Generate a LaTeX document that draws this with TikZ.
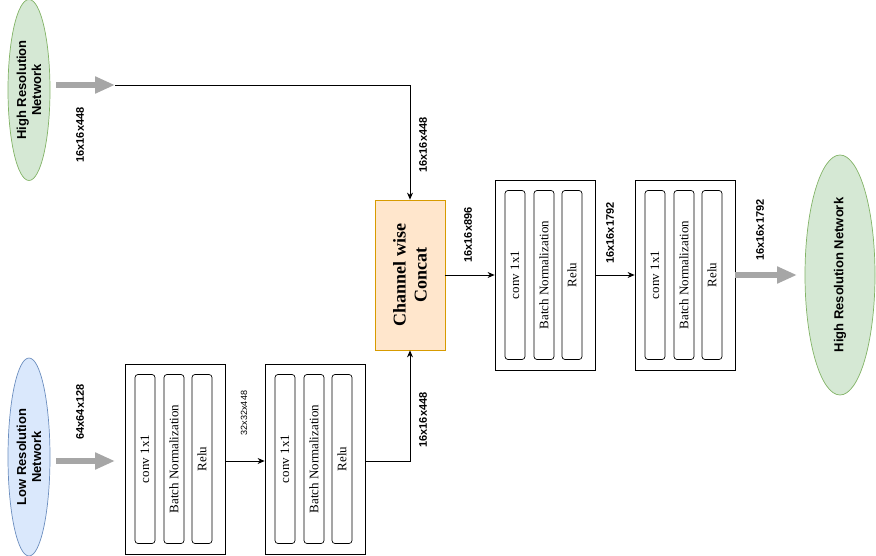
\documentclass[tikz,border=0pt]{standalone}
\usepackage{fontspec}
\setmainfont{Liberation Serif}
\newfontfamily\arial{Liberation Sans}
\usetikzlibrary{arrows.meta,shapes.geometric}
\definecolor{gfill}{HTML}{D5E8D4}\definecolor{gline}{HTML}{82B366}
\definecolor{bfill}{HTML}{DAE8FC}\definecolor{bline}{HTML}{6C8EBF}
\definecolor{ofill}{HTML}{FFE6CC}\definecolor{oline}{HTML}{D79B00}
\definecolor{garr}{HTML}{A6A6A6}
\tikzset{
 ell/.style={ellipse,draw,line width=0.7pt,inner sep=0pt},
 blk/.style={draw,line width=0.8pt,minimum width=100pt,minimum height=190pt,inner sep=0pt},
 lay/.style={draw,rounded corners=3pt,line width=0.7pt,minimum width=20pt,minimum height=169pt,inner sep=0pt},
 laytxt/.style={rotate=90,font=\fontsize{13}{14}\selectfont},
 dim/.style={rotate=90,font=\arial\bfseries\fontsize{11}{12}\selectfont},
 conn/.style={line width=0.8pt,-{Stealth[length=7pt,width=6pt]}},
 fat/.style={garr,line width=6pt,-{Triangle[length=20pt,width=16pt]}},
}
\newcommand{\block}[2]{%
 \node[blk] (#1) at (#2) {};
 \node[lay] (#1a) at ($(#1)+(-30pt,0)$) {}; \node[laytxt] at (#1a) {conv 1x1};
 \node[lay] (#1b) at ($(#1)+(-1pt,0)$) {}; \node[laytxt] at (#1b) {Batch Normalization};
 \node[lay] (#1c) at ($(#1)+(27pt,0)$) {}; \node[laytxt] at (#1c) {Relu};}
\usetikzlibrary{calc}
\begin{document}
\begin{tikzpicture}[x=1pt,y=-1pt]
\useasboundingbox (0,0) rectangle (876,556);
\node[ell,fill=gfill,draw=gline,minimum width=42pt,minimum height=181pt] (hr) at (29,90) {};
\node[rotate=90,align=center,font=\arial\bfseries\fontsize{13}{15}\selectfont] at (hr) {High Resolution\\Network};
\node[ell,fill=bfill,draw=bline,minimum width=42pt,minimum height=198pt] (lr) at (29,457) {};
\node[rotate=90,align=center,font=\arial\bfseries\fontsize{13}{15}\selectfont] at (lr) {Low Resolution\\Network};
\node[ell,fill=gfill,draw=gline,minimum width=70pt,minimum height=240pt] (hr2) at (840,275) {};
\node[rotate=90,font=\arial\bfseries\fontsize{13}{15}\selectfont] at (hr2) {High Resolution Network};
\node[draw=oline,fill=ofill,line width=0.8pt,minimum width=70pt,minimum height=150pt,inner sep=0pt] (cc) at (410,275) {};
\node[rotate=90,align=center,font=\bfseries\fontsize{18}{21}\selectfont] at (cc) {Channel wise\\Concat};
\block{b1}{175,459}
\block{b2}{315,459}
\block{b3}{545,275}
\block{b4}{685,275}
\coordinate (h1) at (56,85); \coordinate (h2) at (115,85);
\draw[fat] (h1) -- (h2);
\draw[conn] (h2) -- (410,85) -- (cc.north);
\coordinate (l1) at (56,461); \coordinate (l2) at (115,461);
\draw[fat] (l1) -- (l2);
\draw[conn] (b1.east|-0,461) -- (b2.west|-0,461);
\draw[conn] (b2.east|-0,461) -- (410,461) -- (cc.south);
\draw[conn] (cc.east) -- (b3.west);
\draw[conn] (b3.east) -- (b4.west);
\coordinate (o2) at (797,275);
\draw[fat] (b4.east) -- (o2);
\node[dim] at (80,135) {16x16x448};
\node[dim] at (423,145) {16x16x448};
\node[dim] at (80,412) {64x64x128};
\node[rotate=90,font=\arial\fontsize{9}{10}\selectfont] at (244,413) {32x32x448};
\node[dim] at (423,420) {16x16x448};
\node[dim] at (468,235) {16x16x896};
\node[dim] at (610,233) {16x16x1792};
\node[dim] at (760,230) {16x16x1792};
\end{tikzpicture}
\end{document}
